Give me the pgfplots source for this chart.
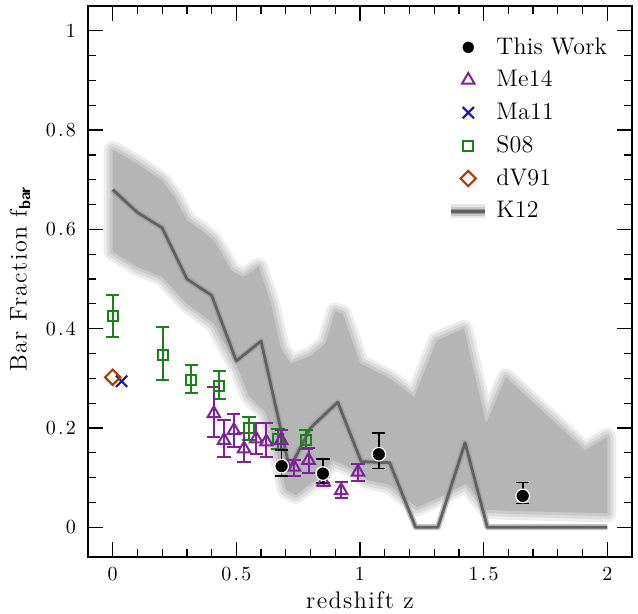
\documentclass[border=0pt]{standalone}
\usepackage{fontspec}
\setmainfont{lmroman10-regular}[Extension=.otf, BoldFont=lmroman10-bold, ItalicFont=lmroman10-italic]
\newfontfamily\lblfont{lmroman12-regular}[Extension=.otf, LetterSpace=6]
\newfontfamily\legfont{lmroman12-regular}[Extension=.otf, LetterSpace=1]
\newfontfamily\tickfont{lmroman10-regular}[Extension=.otf, LetterSpace=11]
\usepackage{pgfplots}
\usepackage{pgfplotstable}
\pgfplotsset{compat=1.18}

\definecolor{mepurple}{RGB}{128,32,156}
\definecolor{mablue}{RGB}{24,24,172}
\definecolor{sgreen}{RGB}{24,132,24}
\definecolor{dvbrown}{RGB}{172,62,10}

% K12 band: upper edge left to right, then lower edge right to left
\pgfplotstableread{
x y
0.00 0.760
0.03 0.752
0.10 0.732
0.20 0.698
0.25 0.665
0.30 0.618
0.36 0.598
0.41 0.577
0.48 0.517
0.53 0.504
0.59 0.525
0.64 0.450
0.68 0.360
0.72 0.330
0.80 0.345
0.86 0.370
0.90 0.435
0.93 0.430
1.00 0.330
1.12 0.300
1.22 0.262
1.31 0.376
1.42 0.400
1.51 0.209
1.59 0.302
1.91 0.155
2.00 0.182
2.00 0.028
1.60 0.033
1.515 0.035
1.43 0.088
1.32 0.060
1.23 0.040
1.12 0.085
1.03 0.095
0.96 0.120
0.89 0.135
0.82 0.095
0.74 0.065
0.70 0.075
0.68 0.120
0.62 0.230
0.55 0.265
0.51 0.316
0.41 0.410
0.30 0.450
0.20 0.504
0.10 0.524
0.00 0.555
}\bandtable

\pgfplotstableread{
x y
0.000 0.680
0.100 0.634
0.200 0.603
0.300 0.500
0.400 0.467
0.500 0.335
0.600 0.375
0.715 0.118
0.800 0.200
0.910 0.252
1.005 0.132
1.120 0.130
1.225 0.000
1.315 0.000
1.425 0.170
1.515 0.000
2.000 0.000
}\ktwelve

\begin{document}
\begin{tikzpicture}[font=\lblfont\fontsize{12}{14}\selectfont]
\begin{axis}[
    scale only axis,
    width=272pt, height=275.5pt,
    xmin=-0.1, xmax=2.1,
    ymin=-0.06, ymax=1.05,
    xtick={0,0.5,1,1.5,2},
    ytick={0,0.2,0.4,0.6,0.8,1},
    minor x tick num=4,
    minor y tick num=3,
    tick align=inside,
    major tick length=7.5pt,
    minor tick length=4pt,
    every tick/.style={black, line width=0.6pt},
    axis line style={line width=0.9pt},
    /pgf/number format/assume math mode=true,
    tick label style={font=\tickfont\fontsize{10}{12}\selectfont},
    xticklabel style={yshift=-1.5pt},
    yticklabel style={xshift=-2.5pt},
    xlabel={redshift z},
    ylabel={Bar Fraction f\textsubscript{\textsf{\textbf{bar}}}},
    xlabel style={at={(axis description cs:0.5,-0.078)}, anchor=center},
    ylabel style={at={(axis description cs:-0.125,0.505)}, anchor=center},
    legend cell align=left,
    legend style={draw=none, fill=none, at={(axis description cs:0.643,0.958)},
        anchor=north west, row sep=2.6pt, font=\legfont\fontsize{12}{14}\selectfont},
    error bars/y dir=both,
    error bars/y explicit,
]
% legend entries
\addlegendimage{only marks, mark=*, mark size=3.2pt, fill=black, draw=white, line width=0.6pt}
\addlegendentry{This Work}
\addlegendimage{only marks, mark=triangle, mark size=3.6pt, color=mepurple, line width=1pt}
\addlegendentry{Me14}
\addlegendimage{only marks, mark=x, mark size=4pt, color=mablue, line width=1.1pt}
\addlegendentry{Ma11}
\addlegendimage{only marks, mark=square, mark size=2.5pt, color=sgreen, line width=1pt}
\addlegendentry{S08}
\addlegendimage{only marks, mark=square, mark size=2.7pt, mark options={rotate=45}, color=dvbrown, line width=1.1pt}
\addlegendentry{dV91}
\addlegendimage{legend image code/.code={
    \draw[black!10, line width=7pt] (0cm,0cm) -- (0.6cm,0cm);
    \draw[black!22, line width=4.5pt] (0cm,0cm) -- (0.6cm,0cm);
    \draw[black!40, line width=2.5pt] (0cm,0cm) -- (0.6cm,0cm);
    \draw[black!62, line width=1.3pt] (0cm,0cm) -- (0.6cm,0cm);}}
\addlegendentry{K12}

% K12 shaded band, edge softened by stacked lighter outlines
\addplot[forget plot, draw=black!7, line width=9pt, line join=round, fill=black!7] table {\bandtable} -- cycle;
\addplot[forget plot, draw=black!14, line width=6pt, line join=round, fill=black!14] table {\bandtable} -- cycle;
\addplot[forget plot, draw=black!21, line width=3pt, line join=round, fill=black!21] table {\bandtable} -- cycle;
\addplot[forget plot, draw=none, fill=black!29] table {\bandtable} -- cycle;
% K12 line
\addplot[forget plot, black!40, line width=3pt, line join=round, opacity=0.6] table {\ktwelve};
\addplot[forget plot, black!62, line width=1.4pt, line join=round] table {\ktwelve};

% S08
\addplot[forget plot, only marks, mark=square, mark size=2.5pt, color=sgreen, line width=1pt,
    error bars/error bar style={line width=1pt, sgreen},
    error bars/error mark options={rotate=90, mark size=3.3pt, line width=1pt, sgreen}]
coordinates {
    (0.000,0.425) += (0,0.042) -= (0,0.041)
    (0.202,0.347) += (0,0.057) -= (0,0.050)
    (0.317,0.297) += (0,0.030) -= (0,0.027)
    (0.431,0.285) += (0,0.029) -= (0,0.027)
    (0.551,0.199) += (0,0.024) -= (0,0.024)
    (0.668,0.178) += (0,0.019) -= (0,0.020)
    (0.782,0.176) += (0,0.019) -= (0,0.018)
};

% Me14
\addplot[forget plot, only marks, mark=triangle, mark size=3.6pt, color=mepurple, line width=1pt,
    error bars/error bar style={line width=1pt, mepurple},
    error bars/error mark options={rotate=90, mark size=3.3pt, line width=1pt, mepurple}]
coordinates {
    (0.409,0.229) += (0,0.053) -= (0,0.047)
    (0.450,0.175) += (0,0.040) -= (0,0.034)
    (0.490,0.195) += (0,0.034) -= (0,0.033)
    (0.531,0.158) += (0,0.031) -= (0,0.027)
    (0.580,0.178) += (0,0.032) -= (0,0.030)
    (0.621,0.172) += (0,0.037) -= (0,0.031)
    (0.681,0.175) += (0,0.020) -= (0,0.020)
    (0.733,0.121) += (0,0.015) -= (0,0.018)
    (0.792,0.135) += (0,0.025) -= (0,0.026)
    (0.853,0.091) += (0,0.010) -= (0,0.008)
    (0.924,0.074) += (0,0.017) -= (0,0.015)
    (0.992,0.111) += (0,0.017) -= (0,0.018)
};

% Ma11
\addplot[forget plot, only marks, mark=x, mark size=4pt, color=mablue, line width=1.1pt]
coordinates {(0.036,0.294)};

% dV91
\addplot[forget plot, only marks, mark=square, mark size=2.7pt, mark options={rotate=45},
    color=dvbrown, line width=1.1pt]
coordinates {(0.0,0.302)};

% This Work
\addplot[forget plot, only marks, mark=*, mark size=3.4pt,
    mark options={fill=black, draw=white, line width=0.6pt},
    error bars/error bar style={line width=0.8pt, black},
    error bars/error mark options={rotate=90, mark size=3.3pt, line width=0.8pt, black}]
coordinates {
    (0.683,0.123) += (0,0.033) -= (0,0.020)
    (0.850,0.108) += (0,0.029) -= (0,0.019)
    (1.076,0.147) += (0,0.043) -= (0,0.029)
    (1.658,0.063) += (0,0.027) -= (0,0.015)
};
\end{axis}
\pgfresetboundingbox
\path ([shift={(-44pt,-28.5pt)}]current axis.south west)
    rectangle ([shift={(3pt,3pt)}]current axis.north east);
\end{tikzpicture}
\end{document}
